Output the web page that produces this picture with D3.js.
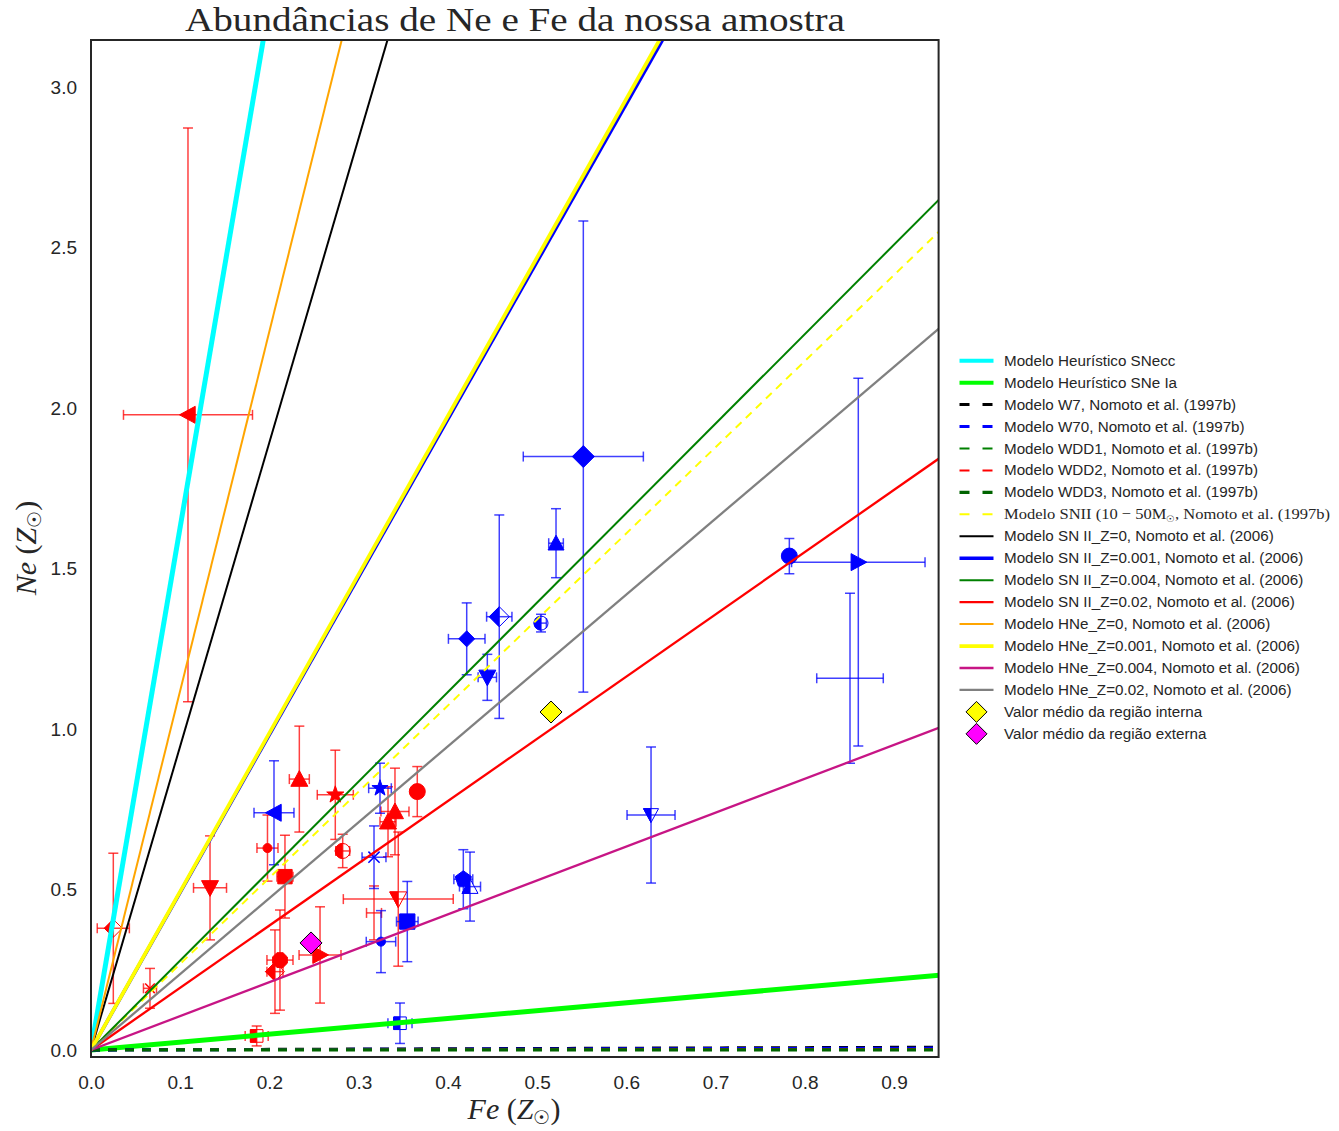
<!DOCTYPE html>
<html>
<head>
<meta charset="utf-8">
<script src="https://cdn.jsdelivr.net/npm/d3@7"></script>
<style>
  body { margin: 0; background: #fff; }
  svg text { fill: #262626; }
</style>
</head>
<body>
<svg id="chart" width="1339" height="1131"></svg>
<script>
// ---------------- data ----------------
const xTicks = [0.0, 0.1, 0.2, 0.3, 0.4, 0.5, 0.6, 0.7, 0.8, 0.9];
const yTicks = [0.0, 0.5, 1.0, 1.5, 2.0, 2.5, 3.0];

// model yields expressed as Ne/Fe ratio (solar units): Ne = ratio * Fe
const modelNames = [
  "Modelo Heurístico SNecc",
  "Modelo Heurístico SNe Ia",
  "Modelo W7, Nomoto et al. (1997b)",
  "Modelo W70, Nomoto et al. (1997b)",
  "Modelo WDD1, Nomoto et al. (1997b)",
  "Modelo WDD2, Nomoto et al. (1997b)",
  "Modelo WDD3, Nomoto et al. (1997b)",
  "Modelo SNII (10 − 50M☉, Nomoto et al. (1997b)",
  "Modelo SN II_Z=0, Nomoto et al. (2006)",
  "Modelo SN II_Z=0.001, Nomoto et al. (2006)",
  "Modelo SN II_Z=0.004, Nomoto et al. (2006)",
  "Modelo SN II_Z=0.02, Nomoto et al. (2006)",
  "Modelo HNe_Z=0, Nomoto et al. (2006)",
  "Modelo HNe_Z=0.001, Nomoto et al. (2006)",
  "Modelo HNe_Z=0.004, Nomoto et al. (2006)",
  "Modelo HNe_Z=0.02, Nomoto et al. (2006)"
];
const modelRatios = [16.3, 0.245, 0.009, 0.006, 0.002, 0.003, 0.0, 2.683,
                     9.47, 4.913, 2.788, 1.939, 11.2, 4.939, 1.056, 2.365];

// inner region sample (red)
const redFe    = [0.1087, 0.025, 0.0661, 0.1334, 0.1978, 0.2174, 0.2118, 0.2062, 0.2567,
                  0.1857, 0.2335, 0.2738, 0.2821, 0.3657, 0.3407, 0.3329, 0.3444, 0.3172];
const redNe    = [1.979, 0.379, 0.192, 0.505, 0.629, 0.540, 0.280, 0.244, 0.296,
                  0.0436, 0.844, 0.795, 0.620, 0.805, 0.743, 0.711, 0.470, 0.427];
const redFeErr = [0.0723, 0.018, 0.0073, 0.0185, 0.0118, 0.009, 0.0146, 0.009, 0.0235,
                  0.0129, 0.0112, 0.0202, 0.0078, 0.003, 0.0157, 0.009, 0.0616, 0.0084];
const redNeErr = [0.894, 0.234, 0.062, 0.162, 0.103, 0.129, 0.156, 0.13, 0.15,
                  0.031, 0.165, 0.139, 0.052, 0.078, 0.135, 0.109, 0.209, 0.084];

// outer region sample (blue)
const blueFe    = [0.2051, 0.3239, 0.3172, 0.325, 0.3545, 0.4173, 0.4248, 0.4211, 0.4576,
                   0.4442, 0.5044, 0.5518, 0.5212, 0.7827, 0.86, 0.8507, 0.6277, 0.3463];
const blueNe    = [0.739, 0.8155, 0.6005, 0.3375, 0.400, 0.532, 0.509, 1.281, 1.350,
                   1.161, 1.330, 1.849, 1.579, 1.539, 1.520, 1.158, 0.732, 0.0832];
const blueFeErr = [0.0224, 0.0127, 0.0134, 0.0165, 0.0121, 0.0106, 0.0118, 0.0205, 0.0142,
                   0.0103, 0.006, 0.0673, 0.0082, 0.004, 0.0748, 0.0373, 0.0269, 0.0135];
const blueNeErr = [0.162, 0.078, 0.0975, 0.0966, 0.125, 0.092, 0.1075, 0.112, 0.317,
                   0.0717, 0.0275, 0.734, 0.1075, 0.055, 0.573, 0.265, 0.212, 0.063];

// mean values of each region
const meanNames = ["Valor médio da região interna", "Valor médio da região externa"];
const meanFe = [0.5156, 0.2466];
const meanNe = [1.053, 0.3334];

// ---------------- styles ----------------
const modelStyles = [
  {c: "#00ffff", w: 5},
  {c: "#00ff00", w: 5},
  {c: "#000000", w: 3, dash: "9,8"},
  {c: "#0000ff", w: 3, dash: "9,8"},
  {c: "#008000", w: 2, dash: "9,8"},
  {c: "#ff0000", w: 2, dash: "9,8"},
  {c: "#006400", w: 3.3, dash: "9,8"},
  {c: "#ffff00", w: 2, dash: "8,6"},
  {c: "#000000", w: 2},
  {c: "#0000ff", w: 3.5},
  {c: "#008000", w: 2},
  {c: "#ff0000", w: 2.3},
  {c: "#ffa500", w: 2},
  {c: "#ffff00", w: 3.8},
  {c: "#c71585", w: 2.3},
  {c: "#808080", w: 2.3}
];
// marker kind, fill style, marker size (px)
const redMarks = [
  ["<", "full", 17], ["D", "left", 18], ["x", "full", 12], ["v", "full", 17],
  ["o", "full", 9], ["s", "full", 16], ["8", "full", 16], ["D", "left", 19],
  [">", "full", 17], ["s", "left", 14], ["^", "full", 17], ["*", "full", 18],
  ["o", "left", 15], ["o", "full", 16], ["^", "full", 17], ["^", "full", 17],
  ["v", "left", 17], ["none", "full", 0]
];
const blueMarks = [
  ["<", "full", 17], ["*", "full", 17], ["x", "full", 14], ["o", "full", 9],
  ["s", "full", 17], ["p", "full", 17], ["^", "left", 16], ["D", "full", 16],
  ["D", "left", 20], ["v", "full", 17], ["o", "left", 14], ["D", "full", 22],
  ["^", "full", 16], ["o", "full", 16], [">", "full", 17], ["none", "full", 0],
  ["v", "left", 15], ["s", "left", 14]
];
const meanColors = ["#ffff00", "#ff00ff"];

// ---------------- layout ----------------
const svg = d3.select("#chart");
const L = 91, R = 938.6, T = 40, B = 1057;
const x = d3.scaleLinear().domain([0, 0.95]).range([L, R]);
const y = d3.scaleLinear().domain([-0.022, 3.147]).range([B, T]);

const defs = svg.append("defs");
defs.append("clipPath").attr("id", "plotClip")
  .append("rect").attr("x", L).attr("y", T).attr("width", R - L).attr("height", B - T);
defs.append("clipPath").attr("id", "leftHalf")
  .append("rect").attr("x", -40).attr("y", -40).attr("width", 40).attr("height", 80);

// marker outlines centred on (0,0)
function markerPath(kind, d) {
  const r = d / 2;
  const poly = pts => "M" + pts.map(p => p[0].toFixed(2) + "," + p[1].toFixed(2)).join("L") + "Z";
  const ring = (n, rad, rot) => d3.range(n).map(k => {
    const a = rot + k * 2 * Math.PI / n;
    return [rad * Math.cos(a), rad * Math.sin(a)];
  });
  switch (kind) {
    case "o": return d3.arc()({innerRadius: 0, outerRadius: r, startAngle: 0, endAngle: 2 * Math.PI});
    case "s": return poly([[-r * 0.9, -r * 0.9], [r * 0.9, -r * 0.9], [r * 0.9, r * 0.9], [-r * 0.9, r * 0.9]]);
    case "D": return poly([[0, -r], [r, 0], [0, r], [-r, 0]]);
    case "^": return poly([[0, -r], [r, r * 0.85], [-r, r * 0.85]]);
    case "v": return poly([[0, r], [r, -r * 0.85], [-r, -r * 0.85]]);
    case "<": return poly([[-r, 0], [r * 0.85, -r], [r * 0.85, r]]);
    case ">": return poly([[r, 0], [-r * 0.85, -r], [-r * 0.85, r]]);
    case "p": return poly(ring(5, r, -Math.PI / 2));
    case "8": return poly(ring(8, r, Math.PI / 8));
    case "*": {
      const outer = ring(5, r, -Math.PI / 2), inner = ring(5, r * 0.4, -Math.PI / 2 + Math.PI / 5);
      const pts = [];
      for (let k = 0; k < 5; k++) { pts.push(outer[k]); pts.push(inner[k]); }
      return poly(pts);
    }
    case "x": {
      const a = r * 0.8;
      return `M${-a},${-a}L${a},${a}M${-a},${a}L${a},${-a}`;
    }
  }
  return null;
}

// ---------------- frame & axes ----------------
const axisFont = "'Liberation Sans', Arial, sans-serif";

const xAxis = svg.append("g").attr("transform", `translate(0,${B})`)
  .call(d3.axisBottom(x).tickValues(xTicks).tickFormat(d3.format(".1f")).tickSize(0).tickPadding(19));
const yAxis = svg.append("g").attr("transform", `translate(${L},0)`)
  .call(d3.axisLeft(y).tickValues(yTicks).tickFormat(d3.format(".1f")).tickSize(0).tickPadding(14));
[xAxis, yAxis].forEach(g => {
  g.select(".domain").remove();
  g.selectAll("text").attr("font-family", axisFont).attr("font-size", 19).attr("fill", "#262626");
});

const plot = svg.append("g").attr("clip-path", "url(#plotClip)");

// ---------------- data points with error bars ----------------
function drawSample(fe, ne, feErr, neErr, marks, color) {
  const g = plot.append("g");
  const cap = 5;
  fe.forEach((fv, i) => {
    const cx = x(fv), cy = y(ne[i]);
    const eb = g.append("g").attr("stroke", color).attr("stroke-width", 1.5)
      .attr("stroke-opacity", 0.75).attr("fill", "none");
    const x0 = x(fv - feErr[i]), x1 = x(fv + feErr[i]);
    const y0 = y(ne[i] - neErr[i]), y1 = y(ne[i] + neErr[i]);
    eb.append("line").attr("x1", x0).attr("x2", x1).attr("y1", cy).attr("y2", cy);
    eb.append("line").attr("x1", x0).attr("x2", x0).attr("y1", cy - cap).attr("y2", cy + cap);
    eb.append("line").attr("x1", x1).attr("x2", x1).attr("y1", cy - cap).attr("y2", cy + cap);
    eb.append("line").attr("x1", cx).attr("x2", cx).attr("y1", y0).attr("y2", y1);
    eb.append("line").attr("x1", cx - cap).attr("x2", cx + cap).attr("y1", y0).attr("y2", y0);
    eb.append("line").attr("x1", cx - cap).attr("x2", cx + cap).attr("y1", y1).attr("y2", y1);

    const [kind, fill, size] = marks[i];
    const p = markerPath(kind, size);
    if (!p) return;
    const m = g.append("g").attr("transform", `translate(${cx},${cy})`);
    if (kind === "x") {
      m.append("path").attr("d", p).attr("stroke", color).attr("stroke-width", 1.5).attr("fill", "none");
    } else if (fill === "left") {
      m.append("path").attr("d", p).attr("fill", "none").attr("stroke", color).attr("stroke-width", 1);
      m.append("path").attr("d", p).attr("fill", color).attr("stroke", color).attr("stroke-width", 1)
        .attr("clip-path", "url(#leftHalf)");
    } else {
      m.append("path").attr("d", p).attr("fill", color).attr("stroke", color).attr("stroke-width", 1);
    }
  });
}
drawSample(redFe, redNe, redFeErr, redNeErr, redMarks, "#ff0000");
drawSample(blueFe, blueNe, blueFeErr, blueNeErr, blueMarks, "#0000ff");

// ---------------- model lines ----------------
const xEnd = 1.0;
modelRatios.forEach((ratio, i) => {
  const st = modelStyles[i];
  plot.append("line")
    .attr("x1", x(0)).attr("y1", y(0))
    .attr("x2", x(xEnd)).attr("y2", y(ratio * xEnd))
    .attr("stroke", st.c).attr("stroke-width", st.w)
    .attr("stroke-dasharray", st.dash || null);
});

// ---------------- region means ----------------
meanFe.forEach((fv, i) => {
  plot.append("path").attr("d", markerPath("D", 22))
    .attr("transform", `translate(${x(fv)},${y(meanNe[i])})`)
    .attr("fill", meanColors[i]).attr("stroke", "#000").attr("stroke-width", 1);
});

// frame
svg.append("rect").attr("x", L).attr("y", T).attr("width", R - L).attr("height", B - T)
  .attr("fill", "none").attr("stroke", "#262626").attr("stroke-width", 2);

// ---------------- titles ----------------
const serif = "'Liberation Serif', 'DejaVu Serif', serif";
svg.append("text").attr("x", 515).attr("y", 31).attr("text-anchor", "middle")
  .attr("font-family", serif).attr("font-size", 33).attr("fill", "#262626")
  .attr("textLength", 660).attr("lengthAdjust", "spacingAndGlyphs")
  .text("Abundâncias de Ne e Fe da nossa amostra");

function zLabel(sel, symbol) {
  sel.append("tspan").attr("font-style", "italic").text(symbol);
  sel.append("tspan").text(" (");
  sel.append("tspan").attr("font-style", "italic").text("Z");
  sel.append("tspan").attr("font-size", "0.62em").attr("dy", "0.25em").text("☉");
  sel.append("tspan").attr("dy", "-0.155em").text(")");
}
const xl = svg.append("text").attr("x", 514).attr("y", 1119).attr("text-anchor", "middle")
  .attr("font-family", serif).attr("font-size", 30).attr("fill", "#262626");
zLabel(xl, "Fe");
const yl = svg.append("text").attr("transform", "translate(36,548) rotate(-90)")
  .attr("text-anchor", "middle").attr("font-family", serif).attr("font-size", 30).attr("fill", "#262626");
zLabel(yl, "Ne");

// ---------------- legend ----------------
const lg = svg.append("g");
const legendSize = 15.2;
const rowY = i => 360.7 + i * 21.95;
modelNames.forEach((name, i) => {
  const st = modelStyles[i];
  const yy = rowY(i);
  lg.append("line").attr("x1", 959.5).attr("x2", 993.5).attr("y1", yy).attr("y2", yy)
    .attr("stroke", st.c).attr("stroke-width", Math.min(st.w, 4))
    .attr("stroke-dasharray", st.dash ? "10,13" : null);
  const t = lg.append("text").attr("x", 1004).attr("y", yy + 5)
    .attr("font-family", axisFont).attr("font-size", legendSize).attr("fill", "#262626");
  if (name.indexOf("☉") >= 0) {
    const parts = name.split("☉");
    t.attr("font-family", serif).attr("font-size", 15.5).attr("fill", "#555")
      .attr("textLength", 326).attr("lengthAdjust", "spacingAndGlyphs");
    t.append("tspan").text(parts[0]);
    t.append("tspan").attr("font-size", "0.6em").attr("dy", "0.3em").text("☉");
    t.append("tspan").attr("dy", "-0.18em").text(parts[1]);
  } else {
    t.text(name);
  }
});
meanNames.forEach((name, i) => {
  const yy = rowY(modelNames.length + i);
  lg.append("path").attr("d", markerPath("D", 21)).attr("transform", `translate(976.5,${yy})`)
    .attr("fill", meanColors[i]).attr("stroke", "#000").attr("stroke-width", 1);
  lg.append("text").attr("x", 1004).attr("y", yy + 5)
    .attr("font-family", axisFont).attr("font-size", legendSize).attr("fill", "#262626").text(name);
});
</script>
</body>
</html>
